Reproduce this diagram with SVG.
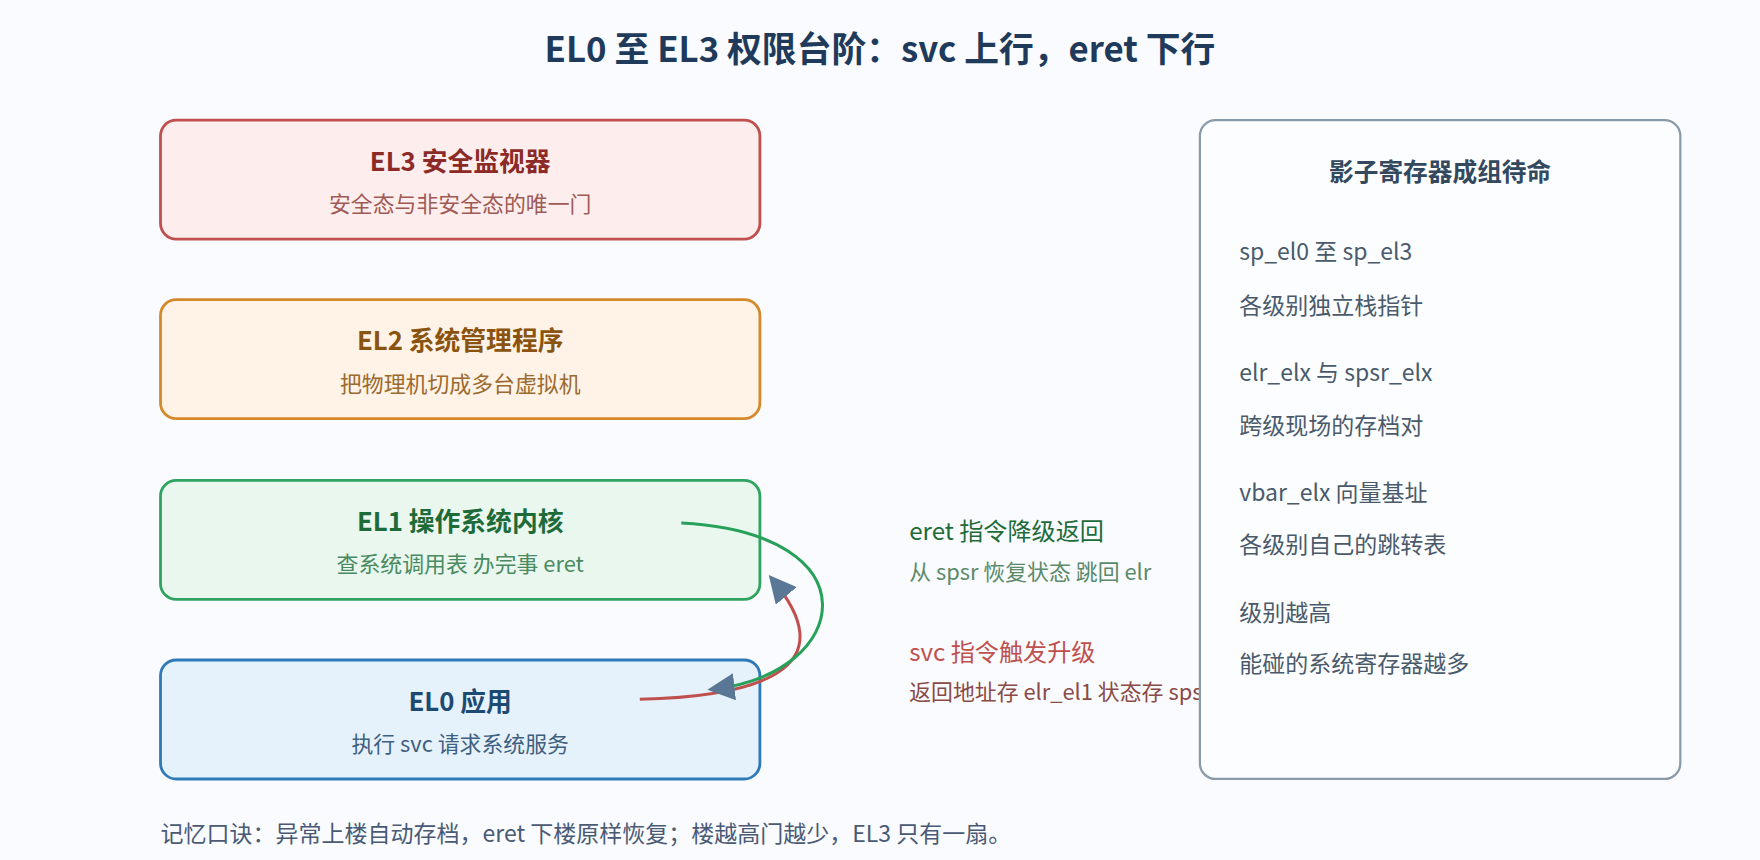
<svg xmlns="http://www.w3.org/2000/svg" width="1760" height="860" viewBox="0 0 1760 860">
<style>
text{font-family:"Noto Sans CJK SC","Noto Sans",sans-serif}
.t{font-size:23px;font-weight:bold;text-anchor:middle}
.s{font-size:19.5px;text-anchor:middle}
.p{font-size:20.5px;fill:#4a5a6a}
</style>
<defs>
<marker id="ah" viewBox="0 0 10 10" refX="8" refY="5" markerWidth="9" markerHeight="9" orient="auto" markerUnits="strokeWidth"><path d="M0,0L10,5L0,10z" fill="#5a7896"/></marker>
</defs>
<rect width="1760" height="860" fill="#f9fbfe"/>
<g transform="scale(1.12245)">
<text x="784" y="55" style="font-size:31px;font-weight:bold;text-anchor:middle" fill="#1f3a5a">EL0 至 EL3 权限台阶：svc 上行，eret 下行</text>
<g id="el3"><rect x="143" y="107" width="534" height="106" rx="14" fill="#fdeeed" stroke="#c0504d" stroke-width="2.5"/><text class="t" x="410" y="152" fill="#8b2a26">EL3 安全监视器</text><text class="s" x="410" y="189" fill="#a05a55">安全态与非安全态的唯一门</text></g>
<g id="el2"><rect x="143" y="267" width="534" height="106" rx="14" fill="#fef3e6" stroke="#d4892a" stroke-width="2.5"/><text class="t" x="410" y="312" fill="#8a5310">EL2 系统管理程序</text><text class="s" x="410" y="349" fill="#9a6a30">把物理机切成多台虚拟机</text></g>
<g id="el1"><rect x="143" y="428" width="534" height="106" rx="14" fill="#e9f7ee" stroke="#2fa35f" stroke-width="2.5"/><text class="t" x="410" y="473" fill="#1e6b3a">EL1 操作系统内核</text><text class="s" x="410" y="510" fill="#4a8a60">查系统调用表 办完事 eret</text></g>
<g id="el0"><rect x="143" y="588" width="534" height="106" rx="14" fill="#e6f2fb" stroke="#2e7ab8" stroke-width="2.5"/><text class="t" x="410" y="633" fill="#1d4a73">EL0 应用</text><text class="s" x="410" y="670" fill="#3f5f80">执行 svc 请求系统服务</text></g>
<g id="connectors" fill="none" stroke-width="2.7">
<path d="M570,623 C690,620 750,590 688,516" stroke="#c0504d" marker-end="url(#ah)"/>
<path d="M607,466 C780,475 760,600 635,614" stroke="#27a05a" marker-end="url(#ah)"/>
</g>
<g id="labels">
<text x="810" y="481" style="font-size:21.5px" fill="#1e6b3a">eret 指令降级返回</text>
<text x="810" y="517" style="font-size:19.5px" fill="#5a8a6a">从 spsr 恢复状态 跳回 elr</text>
<text x="810" y="589" style="font-size:21.5px" fill="#c0504d">svc 指令触发升级</text>
<text x="810" y="624" style="font-size:19.5px" fill="#8a4a45">返回地址存 elr_el1 状态存 spsr_el1</text>
</g>
<g id="panel">
<rect x="1069" y="107" width="428" height="587" rx="14" fill="#fcfdfe" stroke="#8a9aab" stroke-width="2"/>
<text x="1283" y="161" style="font-size:22px;font-weight:bold;text-anchor:middle" fill="#34495e">影子寄存器成组待命</text>
<text class="p" x="1104" y="232">sp_el0 至 sp_el3</text>
<text class="p" x="1104" y="280">各级别独立栈指针</text>
<text class="p" x="1104" y="339">elr_elx 与 spsr_elx</text>
<text class="p" x="1104" y="387">跨级现场的存档对</text>
<text class="p" x="1104" y="446">vbar_elx 向量基址</text>
<text class="p" x="1104" y="493">各级别自己的跳转表</text>
<text class="p" x="1104" y="553">级别越高</text>
<text class="p" x="1104" y="599">能碰的系统寄存器越多</text>
</g>
<text x="143" y="750" style="font-size:20.5px" fill="#4a5a75">记忆口诀：异常上楼自动存档，eret 下楼原样恢复；楼越高门越少，EL3 只有一扇。</text>
</g>
</svg>
